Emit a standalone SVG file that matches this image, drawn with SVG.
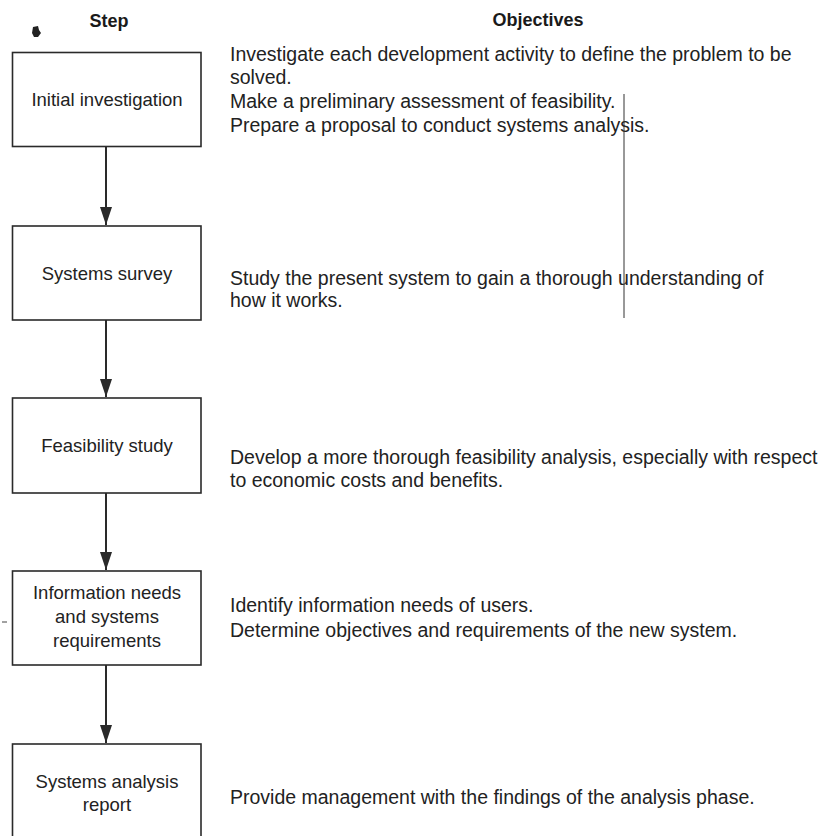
<svg xmlns="http://www.w3.org/2000/svg" width="826" height="836" viewBox="0 0 826 836">
  <defs>
    <style>
      .box { fill: #ffffff; stroke: #2a2a2a; stroke-width: 1.6; }
      .head { font-family: "Liberation Sans", Arial, sans-serif; font-weight: bold; font-size: 18px; fill: #1a1a1a; }
      .lbl { font-family: "Liberation Sans", Arial, sans-serif; font-size: 18.5px; fill: #222222; text-anchor: middle; }
      .obj { font-family: "Liberation Sans", Arial, sans-serif; font-size: 19.5px; fill: #222222; }
      .conn { stroke: #2a2a2a; stroke-width: 2; fill: none; }
    </style>
    <marker id="tip" viewBox="0 0 18 12" refX="18" refY="6" markerWidth="18" markerHeight="12" markerUnits="userSpaceOnUse" orient="auto">
      <path d="M0,0 L18,6 L0,12 Z" fill="#2a2a2a"/>
    </marker>
  </defs>

  <rect width="826" height="836" fill="#ffffff"/>

  <!-- column headings -->
  <g id="headings">
    <text class="head" x="109" y="27" text-anchor="middle">Step</text>
    <text class="head" x="538" y="26" text-anchor="middle">Objectives</text>
    <path d="M33,27 L38,26 L39,30 L41,33 L38,37 L34,37 L32,33 Z" fill="#222222"/>
  </g>

  <!-- connectors between steps -->
  <g id="connectors">
    <line class="conn" x1="106" y1="147" x2="106" y2="225" marker-end="url(#tip)"/>
    <line class="conn" x1="106" y1="320" x2="106" y2="397" marker-end="url(#tip)"/>
    <line class="conn" x1="106" y1="493" x2="106" y2="570" marker-end="url(#tip)"/>
    <line class="conn" x1="106" y1="665" x2="106" y2="743" marker-end="url(#tip)"/>
  </g>

  <!-- steps -->
  <g id="step-initial-investigation">
    <rect class="box" x="12.5" y="52.5" width="188.5" height="94"/>
    <text class="lbl" x="107" y="106">Initial investigation</text>
  </g>
  <g id="step-systems-survey">
    <rect class="box" x="12.5" y="226" width="188.5" height="94"/>
    <text class="lbl" x="107" y="280">Systems survey</text>
  </g>
  <g id="step-feasibility-study">
    <rect class="box" x="12.5" y="398" width="188.5" height="95"/>
    <text class="lbl" x="107" y="452">Feasibility study</text>
  </g>
  <g id="step-information-needs">
    <rect class="box" x="12.5" y="571" width="188.5" height="94"/>
    <text class="lbl" x="107" y="599">Information needs</text>
    <text class="lbl" x="107" y="623">and systems</text>
    <text class="lbl" x="107" y="647">requirements</text>
    <line x1="2" y1="622" x2="7" y2="622" stroke="#444" stroke-width="1"/>
  </g>
  <g id="step-analysis-report">
    <rect class="box" x="12.5" y="744" width="188.5" height="110"/>
    <text class="lbl" x="107" y="788">Systems analysis</text>
    <text class="lbl" x="107" y="811">report</text>
  </g>

  <!-- objectives for each step -->
  <g id="objectives">
    <text class="obj" x="230" y="61">Investigate each development activity to define the problem to be</text>
    <text class="obj" x="230" y="84">solved.</text>
    <text class="obj" x="230" y="108">Make a preliminary assessment of feasibility.</text>
    <text class="obj" x="230" y="132">Prepare a proposal to conduct systems analysis.</text>

    <text class="obj" x="230" y="285">Study the present system to gain a thorough understanding of</text>
    <text class="obj" x="230" y="307">how it works.</text>

    <text class="obj" x="230" y="464">Develop a more thorough feasibility analysis, especially with respect</text>
    <text class="obj" x="230" y="487">to economic costs and benefits.</text>

    <text class="obj" x="230" y="612">Identify information needs of users.</text>
    <text class="obj" x="230" y="637">Determine objectives and requirements of the new system.</text>

    <text class="obj" x="230" y="804">Provide management with the findings of the analysis phase.</text>
  </g>

  <!-- thin vertical rule through the first objectives -->
  <line x1="624" y1="94" x2="624" y2="318" stroke="#333" stroke-width="1"/>
</svg>
